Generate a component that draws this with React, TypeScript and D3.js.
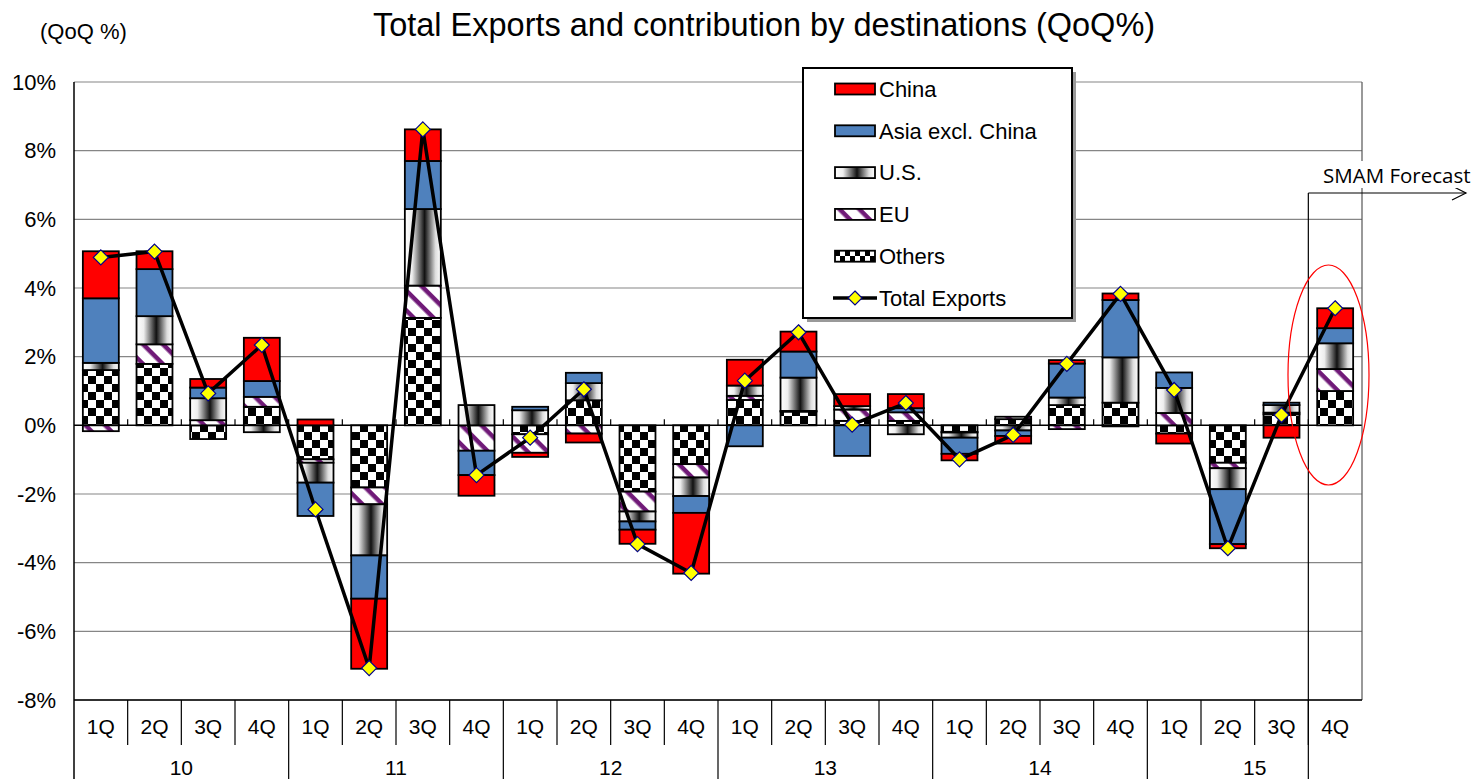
import React from "react";
import * as d3 from "d3";

const years = ["10", "11", "12", "13", "14", "15"];
const quarters = ["1Q", "2Q", "3Q", "4Q"];

const china = [1.37, 0.52, 0.25, 1.26, 0.17, -2.04, 0.92, -0.6, -0.12, -0.26, -0.41, -1.77, 0.75, 0.58, 0.35, 0.41, -0.19, -0.22, 0.1, 0.19, -0.29, -0.12, -0.36, 0.58];
const asia = [1.88, 1.37, 0.31, 0.46, -0.97, -1.26, 1.4, -0.71, 0.1, 0.3, -0.24, -0.49, -0.61, 0.76, -0.89, 0.12, -0.47, -0.16, 0.99, 1.67, 0.45, -1.6, 0.07, 0.44];
const us = [0.21, 0.82, 0.64, -0.2, -0.58, -1.49, 2.23, 0.59, 0.44, 0.5, -0.29, -0.54, 0.3, 0.97, 0.1, -0.26, -0.15, -0.15, 0.22, 1.32, 0.73, -0.61, 0.22, 0.75];
const eu = [-0.17, 0.57, 0.15, 0.29, -0.1, -0.49, 0.94, -0.74, -0.54, -0.24, -0.58, -0.39, 0.12, 0.02, 0.33, 0.25, -0.02, 0.07, -0.11, -0.03, 0.36, -0.16, 0.05, 0.64];
const others = [1.61, 1.79, -0.4, 0.54, -0.99, -1.81, 3.13, 0, -0.26, 0.73, -1.93, -1.13, 0.74, 0.4, 0.13, 0.13, -0.19, 0.18, 0.59, 0.66, -0.24, -1.09, 0.32, 1.0];
const total = [4.89, 5.06, 0.93, 2.34, -2.45, -7.07, 8.62, -1.45, -0.36, 1.05, -3.46, -4.3, 1.3, 2.71, 0.02, 0.65, -0.99, -0.28, 1.79, 3.83, 1.03, -3.58, 0.3, 3.41];
const yTicks = [-8, -6, -4, -2, 0, 2, 4, 6, 8, 10];

const seriesKeys = ["others", "eu", "us", "asia", "china"];
const seriesFill: Record<string, string> = {
  china: "#FF0000",
  asia: "#4F81BD",
  us: "url(#usGrad)",
  eu: "url(#euPat)",
  others: "url(#chkPat)",
};
const legendItems = [
  { key: "china", label: "China", fill: "#FF0000" },
  { key: "asia", label: "Asia excl. China", fill: "#4F81BD" },
  { key: "us", label: "U.S.", fill: "url(#usGrad)" },
  { key: "eu", label: "EU", fill: "url(#euPat)" },
  { key: "others", label: "Others", fill: "url(#chkPatS)" },
];

const FONT = "'Liberation Sans', Arial, sans-serif";

export default function App() {
  const W = 1475, H = 779;
  const left = 74, right = 1362, top = 82, bottom = 700;
  const cats: string[] = [];
  years.forEach((yy) => quarters.forEach((q) => cats.push(yy + "-" + q)));

  const x = d3.scaleBand<string>().domain(cats).range([left, right]).paddingInner(0.33).paddingOuter(0.165);
  const y = d3.scaleLinear().domain([-8, 10]).range([bottom, top]);
  const step = x.step();

  const rows = cats.map((c, i) => ({ cat: c, china: china[i], asia: asia[i], us: us[i], eu: eu[i], others: others[i] }));
  const stack = d3.stack<any>().keys(seriesKeys).offset(d3.stackOffsetDiverging);
  const stacked = stack(rows);

  const line = d3.line<number>().x((_, i) => (x(cats[i]) as number) + x.bandwidth() / 2).y((d) => y(d));

  const y0 = y(0);
  const diamond = (cx: number, cy: number, r: number) => `M${cx},${cy - r}L${cx + r},${cy}L${cx},${cy + r}L${cx - r},${cy}Z`;

  const fx = left + step * 23;
  const legX = 803, legY = 68, legW = 269, legH = 250;
  const rowY = (i: number) => 89 + i * 41.8;

  return (
    <svg width={W} height={H} style={{ position: "absolute", left: 0, top: 0, background: "#fff" }} fontFamily={FONT}>
      <defs>
        <linearGradient id="usGrad" x1="0" x2="1" y1="0" y2="0">
          <stop offset="0" stopColor="#ffffff" />
          <stop offset="0.2" stopColor="#eeeeee" />
          <stop offset="0.55" stopColor="#111111" />
          <stop offset="0.85" stopColor="#dddddd" />
          <stop offset="1" stopColor="#ffffff" />
        </linearGradient>
        <pattern id="euPat" width="14" height="14" patternUnits="userSpaceOnUse" patternTransform="rotate(45)">
          <rect width="14" height="14" fill="#fff" />
          <rect y="0" width="14" height="4.5" fill="#701A78" />
        </pattern>
        <pattern id="chkPat" width="16" height="16" patternUnits="userSpaceOnUse">
          <rect width="16" height="16" fill="#fff" />
          <rect x="0" y="0" width="8" height="8" fill="#000" />
          <rect x="8" y="8" width="8" height="8" fill="#000" />
        </pattern>
        <pattern id="chkPatS" width="10" height="10" patternUnits="userSpaceOnUse" x="835" y="251">
          <rect width="10" height="10" fill="#fff" />
          <rect x="0" y="0" width="5" height="5" fill="#000" />
          <rect x="5" y="5" width="5" height="5" fill="#000" />
        </pattern>
      </defs>

      {/* title */}
      <text x={764} y={36} textAnchor="middle" fontSize={32.5}>Total Exports and contribution by destinations (QoQ%)</text>
      <text x={40} y={39} fontSize={22}>(QoQ %)</text>

      {/* gridlines */}
      {yTicks.map((t) => (
        <line key={"g" + t} x1={left} x2={right} y1={y(t)} y2={y(t)} stroke={t === 0 ? "#000" : "#868686"} strokeWidth={t === 0 ? 1.5 : 1.2} />
      ))}
      {yTicks.map((t) => (
        <text key={"yl" + t} x={56} y={y(t)} dy="0.35em" textAnchor="end" fontSize={22}>{t + "%"}</text>
      ))}
      {/* plot border */}
      <line x1={right} x2={right} y1={top} y2={bottom} stroke="#555" strokeWidth={1.2} />
      <line x1={left} x2={right} y1={bottom} y2={bottom} stroke="#000" strokeWidth={1.5} />
      <line x1={left} x2={left} y1={top} y2={H} stroke="#000" strokeWidth={1.5} />

      {/* zero axis tick marks */}
      {cats.slice(1).map((c, i) => (
        <line key={"tk" + i} x1={left + step * (i + 1)} x2={left + step * (i + 1)} y1={y0 - 6} y2={y0} stroke="#000" strokeWidth={1.2} />
      ))}

      {/* bars */}
      {stacked.map((s) => (
        <g key={s.key}>
          {s.map((d, i) => {
            const ya = y(d[0]), yb = y(d[1]);
            const h = Math.abs(ya - yb);
            if (h < 0.01) return null;
            return (
              <rect key={i} x={x(cats[i])} width={x.bandwidth()} y={Math.min(ya, yb)} height={h}
                fill={seriesFill[s.key]} stroke="#000" strokeWidth={1.8} />
            );
          })}
        </g>
      ))}

      {/* total line */}
      <path d={line(total) || ""} fill="none" stroke="#000" strokeWidth={3.5} strokeLinejoin="round" />
      {total.map((v, i) => (
        <path key={"m" + i} d={diamond((x(cats[i]) as number) + x.bandwidth() / 2, y(v), 7.5)} fill="#FFFF00" stroke="#00008B" strokeWidth={1.2} />
      ))}

      {/* x axis labels */}
      {cats.map((c, i) => (
        <text key={"q" + i} x={left + step * (i + 0.5)} y={727} dy="0.35em" textAnchor="middle" fontSize={21}>{quarters[i % 4]}</text>
      ))}
      {cats.map((c, i) => (i % 4 === 0 ? null : (
        <line key={"qs" + i} x1={left + step * i} x2={left + step * i} y1={bottom} y2={745} stroke="#000" strokeWidth={1.2} />
      )))}
      {years.map((yy, j) => (
        <g key={"yr" + yy}>
          {j > 0 && <line x1={left + step * 4 * j} x2={left + step * 4 * j} y1={bottom} y2={H} stroke="#000" strokeWidth={1.2} />}
          <text x={left + step * (4 * j + 2)} y={768} dy="0.35em" textAnchor="middle" fontSize={21}>{yy}</text>
        </g>
      ))}

      {/* forecast annotation */}
      <line x1={fx} x2={fx} y1={193} y2={H} stroke="#000" strokeWidth={1.2} />
      <line x1={fx} x2={1466} y1={193} y2={193} stroke="#000" strokeWidth={1.2} />
      <path d="M1452,186L1466,193L1452,200" fill="none" stroke="#000" strokeWidth={1.2} />
      <rect x={1318} y={161} width={157} height={27} fill="#fff" />
      <text x={1323} y={183} fontSize={20.5} fontFamily="'Open Sans', sans-serif">SMAM Forecast</text>
      <ellipse cx={1328.5} cy={375} rx={40.5} ry={110} fill="none" stroke="#FF0000" strokeWidth={1.2} />

      {/* legend */}
      <rect x={legX + 4} y={legY + 4} width={legW} height={legH} fill="#999" />
      <rect x={legX} y={legY} width={legW} height={legH} fill="#fff" stroke="#000" strokeWidth={2} />
      {legendItems.map((it, i) => (
        <g key={it.key}>
          <rect x={835} y={rowY(i) - 5.5} width={40} height={11} fill={it.fill} stroke="#000" strokeWidth={1.8} />
          <text x={879} y={rowY(i)} dy="0.35em" fontSize={22}>{it.label}</text>
        </g>
      ))}
      <line x1={833} x2={877} y1={rowY(5)} y2={rowY(5)} stroke="#000" strokeWidth={3.5} />
      <path d={diamond(855, rowY(5), 7)} fill="#FFFF00" stroke="#00008B" strokeWidth={1.2} />
      <text x={879} y={rowY(5)} dy="0.35em" fontSize={22}>Total Exports</text>
    </svg>
  );
}
